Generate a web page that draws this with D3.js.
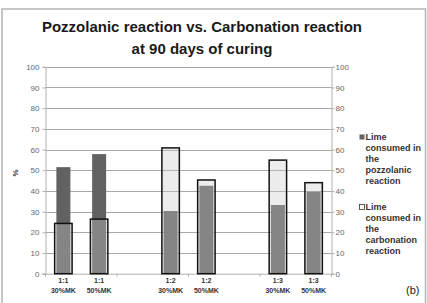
<!DOCTYPE html>
<html><head><meta charset="utf-8">
<script src="https://cdn.jsdelivr.net/npm/d3@7/dist/d3.min.js"></script>
<style>body{margin:0;background:#fff;}svg{display:block;font-family:"Liberation Sans",Arial,sans-serif;}</style>
</head><body><svg id="c" width="427" height="303"></svg>
<script>
const ratios = ["1:1","1:1","","1:2","1:2","","1:3","1:3"];
const mkLabels = ["30%MK","50%MK","","30%MK","50%MK","","30%MK","50%MK"];
const pozzolanic = [51.5, 57.8, null, 30.3, 42.5, null, 33.2, 39.6];
const carbonation = [24.3, 26.4, null, 60.8, 45.3, null, 54.9, 44.0];
const yTicks = [0,10,20,30,40,50,60,70,80,90,100];
const titleLines = ["Pozzolanic reaction vs. Carbonation reaction","at 90 days of curing"];
const legendPozz = ["Lime","consumed in","the","pozzolanic","reaction"];
const legendCarb = ["Lime","consumed in","the","carbonation","reaction"];

const svg = d3.select("#c");
const keys = ratios.map((r,i)=>"k"+i);
const plotL = 45.5, plotR = 331.5, plotT = 66.8, plotB = 273.7;
const x = d3.scaleBand().domain(keys).range([plotL,plotR]).paddingInner(0.47).paddingOuter(0.235);
const y = d3.scaleLinear().domain([0,100]).range([plotB,plotT]);

// frame
svg.append("rect").attr("x",2).attr("y",9).attr("width",423.5).attr("height",310)
  .attr("fill","none").attr("stroke","#b4b4b4").attr("stroke-width",1.5);

// title
svg.append("g").selectAll("text").data(titleLines).join("text")
  .attr("x",202).attr("y",(d,i)=>32+i*21.5).attr("text-anchor","middle")
  .attr("font-size",15).attr("font-weight","bold").attr("fill","#1a1a1a").text(d=>d);

// gridlines
svg.append("g").selectAll("line").data(yTicks.slice(1)).join("line")
  .attr("x1",plotL).attr("x2",plotR).attr("y1",d=>Math.round(y(d))+0.5).attr("y2",d=>Math.round(y(d))+0.5)
  .attr("stroke","#a8a8a8").attr("stroke-width",1);

// left axis
const gl = svg.append("g").attr("transform",`translate(${plotL},0)`)
  .call(d3.axisLeft(y).tickValues(yTicks).tickSize(3).tickPadding(3));
gl.select(".domain").attr("stroke","#b0b0b0");
gl.selectAll(".tick line").attr("stroke","#b0b0b0");
gl.selectAll("text").attr("font-size",8).attr("fill","#666").attr("font-family","'Liberation Sans',Arial,sans-serif");

// right axis
const gr = svg.append("g").attr("transform",`translate(${plotR},0)`)
  .call(d3.axisRight(y).tickValues(yTicks).tickSize(3).tickPadding(1));
gr.select(".domain").attr("stroke","#b0b0b0");
gr.selectAll(".tick line").attr("stroke","#b0b0b0");
gr.selectAll("text").attr("font-size",8).attr("fill","#666").attr("font-family","'Liberation Sans',Arial,sans-serif");

// x axis
svg.append("line").attr("x1",plotL-3).attr("x2",plotR).attr("y1",plotB+0.5).attr("y2",plotB+0.5).attr("stroke","#b0b0b0");
const boundaries = [0,2,4,6,8].map(i=> plotL + i*x.step());
svg.append("g").selectAll("line").data(boundaries).join("line")
  .attr("x1",d=>d).attr("x2",d=>d).attr("y1",plotB).attr("y2",plotB+3).attr("stroke","#b0b0b0");

const idx = d3.range(keys.length).filter(i=>pozzolanic[i]!=null);

// pozzolanic bars (dark)
const innerW = 14;
svg.append("g").selectAll("rect").data(idx).join("rect")
  .attr("x",i=>x(keys[i])+x.bandwidth()/2-innerW/2).attr("width",innerW)
  .attr("y",i=>y(pozzolanic[i])).attr("height",i=>y(0)-y(pozzolanic[i]))
  .attr("fill","#626262");

// carbonation bars (translucent with black outline)
svg.append("g").selectAll("rect").data(idx).join("rect")
  .attr("x",i=>x(keys[i])+0.75).attr("width",x.bandwidth()-1.5)
  .attr("y",i=>y(carbonation[i])).attr("height",i=>y(0)-y(carbonation[i]))
  .attr("fill","rgb(200,200,200)").attr("fill-opacity",0.344)
  .attr("stroke","#111").attr("stroke-width",1.5);

// x labels
const xl = svg.append("g").selectAll("g").data(idx).join("g")
  .attr("transform",i=>`translate(${x(keys[i])+x.bandwidth()/2},0)`);
xl.append("text").attr("y",283).attr("text-anchor","middle").attr("font-size",7).attr("font-weight","bold").attr("fill","#333").text(i=>ratios[i]);
xl.append("text").attr("y",292.5).attr("text-anchor","middle").attr("font-size",7).attr("font-weight","bold").attr("fill","#333").text(i=>mkLabels[i]);

// y title
svg.append("text").attr("transform","translate(18,173) rotate(-90)").attr("text-anchor","middle")
  .attr("font-size",8).attr("font-weight","bold").attr("fill","#333").text("%");

// legend
function legend(lines, y0, fill){
  const g = svg.append("g");
  g.append("rect").attr("x",359.5).attr("y",y0-5.5).attr("width",5).attr("height",5)
    .attr("fill",fill).attr("stroke",fill==="#fff"?"#333":"none").attr("stroke-width",0.8);
  g.selectAll("text").data(lines).join("text")
    .attr("x",365.5).attr("y",(d,i)=>y0+i*11).attr("font-size",9).attr("font-weight","bold").attr("fill","#333").text(d=>d);
}
legend(legendPozz, 140, "#626262");
legend(legendCarb, 210, "#fff");

svg.append("text").attr("x",406).attr("y",294).attr("font-size",11).attr("fill","#222").text("(b)");
</script></body></html>
